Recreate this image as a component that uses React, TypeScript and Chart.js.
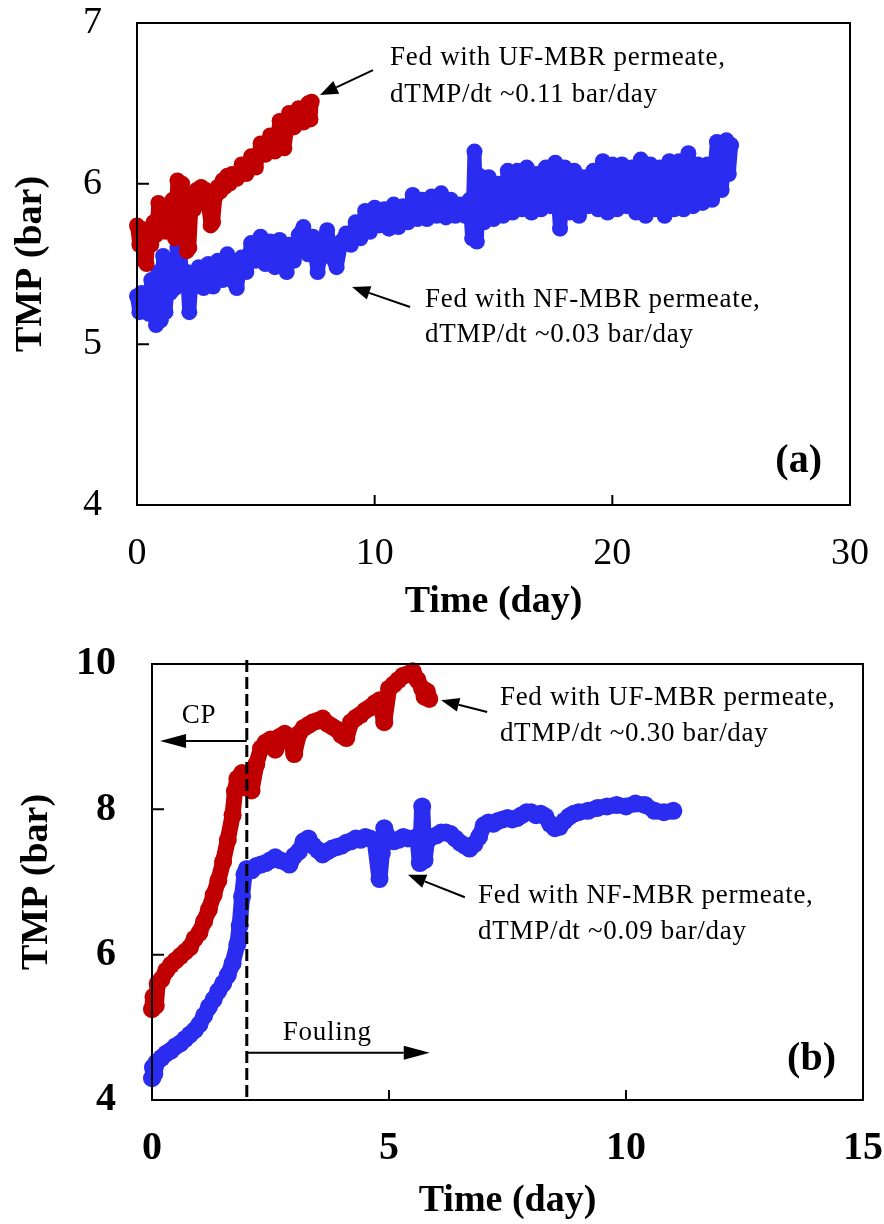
import React, { useEffect, useRef } from "react";
import { Chart, registerables } from "chart.js";
Chart.register(...registerables);

const FONT = "'Liberation Serif', 'Times New Roman', serif";
const RED = "#C00000";
const BLUE = "#2A2CF0";

// ---------- Panel (a): [day, TMP bar] ----------
const ufA: [number, number][] = [
  [0, 5.74], [0.1, 5.62], [0.2, 5.72], [0.3, 5.52], [0.4, 5.5], [0.5, 5.7], [0.6, 5.62], [0.7, 5.76],
  [0.8, 5.68], [0.9, 5.88], [1.0, 5.72], [1.1, 5.85], [1.2, 5.7], [1.3, 5.84], [1.4, 5.74], [1.5, 5.9],
  [1.6, 5.66], [1.7, 6.02], [1.8, 5.7], [1.9, 6.0], [2.0, 5.8], [2.1, 5.58], [2.2, 5.6], [2.3, 5.9],
  [2.4, 5.84], [2.5, 5.96], [2.6, 5.88], [2.7, 5.98], [2.8, 5.9], [2.9, 5.96], [3.0, 5.86], [3.1, 5.74],
  [3.2, 5.76], [3.3, 5.92], [3.4, 5.98], [3.5, 5.95], [3.6, 6.02], [3.7, 5.98], [3.8, 6.05], [3.9, 6.0],
  [4.0, 6.06], [4.2, 6.03], [4.4, 6.12], [4.6, 6.06], [4.8, 6.17], [5.0, 6.1], [5.2, 6.25], [5.4, 6.18],
  [5.6, 6.3], [5.8, 6.2], [6.0, 6.39], [6.2, 6.22], [6.4, 6.44], [6.6, 6.35], [6.8, 6.47], [7.0, 6.38],
  [7.2, 6.5], [7.3, 6.4], [7.35, 6.51],
];
const nfA: [number, number][] = [
  [0, 5.3], [0.1, 5.2], [0.2, 5.32], [0.3, 5.22], [0.4, 5.3], [0.5, 5.19], [0.6, 5.4], [0.7, 5.25],
  [0.8, 5.12], [0.9, 5.45], [1.0, 5.15], [1.1, 5.55], [1.2, 5.2], [1.3, 5.4], [1.4, 5.32], [1.5, 5.45],
  [1.6, 5.35], [1.7, 5.6], [1.8, 5.64], [1.9, 5.4], [2.0, 5.38], [2.1, 5.45], [2.2, 5.2], [2.3, 5.42],
  [2.4, 5.36], [2.6, 5.48], [2.8, 5.35], [3.0, 5.5], [3.2, 5.36], [3.4, 5.52], [3.6, 5.4], [3.8, 5.56],
  [4.0, 5.4], [4.2, 5.35], [4.4, 5.54], [4.6, 5.45], [4.8, 5.63], [5.0, 5.52], [5.2, 5.67], [5.4, 5.5],
  [5.6, 5.64], [5.8, 5.48], [6.0, 5.65], [6.2, 5.52], [6.3, 5.45], [6.4, 5.62], [6.6, 5.52], [6.8, 5.68],
  [7.0, 5.73], [7.2, 5.56], [7.4, 5.67], [7.6, 5.45], [7.8, 5.62], [8.0, 5.71], [8.2, 5.54], [8.4, 5.48],
  [8.6, 5.64], [8.8, 5.69], [9.0, 5.62], [9.2, 5.76], [9.4, 5.66], [9.6, 5.83], [9.8, 5.7], [10.0, 5.85],
  [10.2, 5.74], [10.4, 5.84], [10.6, 5.72], [10.8, 5.87], [11.0, 5.73], [11.2, 5.86], [11.4, 5.76], [11.6, 5.93],
  [11.8, 5.78], [12.0, 5.9], [12.2, 5.78], [12.4, 5.92], [12.6, 5.8], [12.8, 5.94], [13.0, 5.79], [13.2, 5.9],
  [13.4, 5.8], [13.6, 5.87], [13.8, 5.8], [14.0, 5.9], [14.1, 5.66], [14.2, 6.2], [14.3, 5.64], [14.4, 6.05],
  [14.6, 5.76], [14.8, 6.04], [15.0, 5.78], [15.2, 6.0], [15.4, 5.8], [15.6, 6.08], [15.8, 5.82], [16.0, 6.08],
  [16.2, 5.84], [16.4, 6.1], [16.6, 5.82], [16.8, 6.06], [17.0, 5.84], [17.2, 6.1], [17.4, 5.86], [17.6, 6.13],
  [17.8, 5.72], [18.0, 6.1], [18.2, 5.82], [18.4, 6.08], [18.6, 5.8], [18.8, 6.04], [19.0, 5.86], [19.2, 6.08],
  [19.4, 5.84], [19.6, 6.14], [19.8, 5.82], [20.0, 6.12], [20.2, 5.84], [20.4, 6.12], [20.6, 5.86], [20.8, 6.1],
  [21.0, 5.82], [21.2, 6.15], [21.4, 5.8], [21.6, 6.12], [21.8, 5.84], [22.0, 6.1], [22.2, 5.8], [22.4, 6.14],
  [22.6, 5.84], [22.8, 6.14], [23.0, 5.84], [23.2, 6.19], [23.4, 5.86], [23.6, 6.12], [23.8, 5.88], [24.0, 6.12],
  [24.2, 5.9], [24.4, 6.26], [24.6, 5.96], [24.8, 6.27], [24.9, 6.06], [25.0, 6.24],
];
const xTicksA = [0, 10, 20, 30];
const yTicksA = [4, 5, 6, 7];

// ---------- Panel (b): [day, TMP bar] ----------
const ufB: [number, number][] = [
  [0, 5.25], [0.03, 5.42], [0.08, 5.3], [0.12, 5.6], [0.2, 5.66], [0.3, 5.78], [0.4, 5.86], [0.5, 5.92],
  [0.6, 5.98], [0.7, 6.04], [0.8, 6.1], [0.9, 6.22], [1.0, 6.3], [1.1, 6.46], [1.2, 6.62], [1.3, 6.82],
  [1.4, 7.02], [1.5, 7.28], [1.6, 7.58], [1.7, 7.92], [1.75, 8.25], [1.8, 8.42], [1.9, 8.5], [2.0, 8.3],
  [2.1, 8.26], [2.2, 8.62], [2.3, 8.84], [2.4, 8.92], [2.5, 8.96], [2.6, 8.82], [2.7, 9.0], [2.8, 9.04],
  [2.9, 8.98], [3.0, 8.76], [3.1, 9.04], [3.2, 9.12], [3.3, 9.16], [3.4, 9.2], [3.5, 9.22], [3.6, 9.25],
  [3.7, 9.18], [3.8, 9.14], [3.9, 9.1], [4.0, 9.02], [4.1, 8.98], [4.2, 9.2], [4.3, 9.26], [4.4, 9.3],
  [4.5, 9.36], [4.6, 9.4], [4.7, 9.46], [4.8, 9.5], [4.9, 9.2], [5.0, 9.66], [5.1, 9.72], [5.2, 9.78],
  [5.3, 9.84], [5.4, 9.86], [5.5, 9.9], [5.6, 9.78], [5.7, 9.66], [5.75, 9.55], [5.8, 9.62], [5.85, 9.52],
];
const nfB: [number, number][] = [
  [0, 4.3], [0.02, 4.45], [0.05, 4.36], [0.1, 4.52], [0.2, 4.58], [0.3, 4.64], [0.4, 4.68], [0.5, 4.74],
  [0.6, 4.78], [0.7, 4.84], [0.8, 4.9], [0.9, 4.96], [1.0, 5.04], [1.1, 5.16], [1.2, 5.28], [1.3, 5.38],
  [1.4, 5.5], [1.5, 5.6], [1.6, 5.72], [1.7, 5.88], [1.8, 6.14], [1.85, 6.4], [1.9, 6.8], [1.95, 7.1],
  [2.0, 7.18], [2.1, 7.16], [2.2, 7.22], [2.3, 7.24], [2.4, 7.26], [2.5, 7.3], [2.6, 7.34], [2.7, 7.3],
  [2.8, 7.28], [2.9, 7.24], [3.0, 7.36], [3.1, 7.42], [3.2, 7.56], [3.3, 7.6], [3.4, 7.5], [3.5, 7.44],
  [3.6, 7.38], [3.7, 7.42], [3.8, 7.46], [3.9, 7.48], [4.0, 7.5], [4.1, 7.54], [4.2, 7.56], [4.3, 7.6],
  [4.4, 7.58], [4.5, 7.62], [4.6, 7.6], [4.7, 7.56], [4.8, 7.04], [4.85, 7.4], [4.9, 7.74], [5.0, 7.6],
  [5.1, 7.56], [5.2, 7.58], [5.3, 7.62], [5.4, 7.6], [5.5, 7.6], [5.6, 7.62], [5.65, 7.26], [5.7, 8.04],
  [5.75, 7.3], [5.8, 7.56], [5.9, 7.62], [6.0, 7.64], [6.1, 7.68], [6.2, 7.68], [6.3, 7.66], [6.4, 7.6],
  [6.5, 7.54], [6.6, 7.5], [6.7, 7.46], [6.8, 7.52], [6.9, 7.62], [7.0, 7.78], [7.1, 7.82], [7.2, 7.8],
  [7.3, 7.84], [7.4, 7.86], [7.5, 7.88], [7.6, 7.86], [7.7, 7.88], [7.8, 7.92], [7.9, 7.96], [8.0, 7.96],
  [8.1, 7.92], [8.2, 7.94], [8.3, 7.9], [8.4, 7.8], [8.5, 7.74], [8.6, 7.76], [8.7, 7.84], [8.8, 7.9],
  [8.9, 7.94], [9.0, 7.96], [9.2, 7.98], [9.4, 8.02], [9.6, 8.04], [9.8, 8.06], [10.0, 8.04], [10.2, 8.08],
  [10.4, 8.06], [10.6, 7.98], [10.8, 7.96], [11.0, 7.98],
];
const xTicksB = [0, 5, 10, 15];
const yTicksB = [4, 6, 8, 10];
const cpFoulingBoundary = 2;

// ---------- Annotations (data coordinates) ----------
type Txt = { x: number; y: number; text: string; bold?: boolean; size?: number; align?: CanvasTextAlign };
type Arr = { from: [number, number]; to: [number, number]; head?: number };

const textsA: Txt[] = [
  { x: 10.65, y: 6.739, text: "Fed with UF-MBR permeate," },
  { x: 10.65, y: 6.508, text: "dTMP/dt ~0.11 bar/day" },
  { x: 12.12, y: 5.232, text: "Fed with NF-MBR permeate," },
  { x: 12.12, y: 5.015, text: "dTMP/dt ~0.03 bar/day" },
  { x: 28.82, y: 4.205, text: "(a)", bold: true, size: 40, align: "right" },
];
const arrowsA: Arr[] = [
  { from: [9.93, 6.707], to: [7.7, 6.552] },
  { from: [11.49, 5.232], to: [9.05, 5.357] },
];
const textsB: Txt[] = [
  { x: 7.34, y: 9.43, text: "Fed with UF-MBR permeate," },
  { x: 7.34, y: 8.94, text: "dTMP/dt ~0.30 bar/day" },
  { x: 6.88, y: 6.71, text: "Fed with NF-MBR permeate," },
  { x: 6.88, y: 6.22, text: "dTMP/dt ~0.09 bar/day" },
  { x: 0.63, y: 9.19, text: "CP" },
  { x: 2.76, y: 4.83, text: "Fouling" },
  { x: 14.43, y: 4.41, text: "(b)", bold: true, size: 40, align: "right" },
];
const arrowsB: Arr[] = [
  { from: [7.07, 9.34], to: [6.1, 9.5] },
  { from: [6.6, 6.79], to: [5.4, 7.1] },
  { from: [2.0, 8.94], to: [0.17, 8.94], head: 26 },
  { from: [2.0, 4.65], to: [5.86, 4.65], head: 26 },
];

function drawArrow(ctx: CanvasRenderingContext2D, x1: number, y1: number, x2: number, y2: number, L: number) {
  const ang = Math.atan2(y2 - y1, x2 - x1);
  const W = 7;
  const bx = x2 - L * Math.cos(ang);
  const by = y2 - L * Math.sin(ang);
  ctx.beginPath();
  ctx.moveTo(x1, y1);
  ctx.lineTo(bx, by);
  ctx.stroke();
  ctx.beginPath();
  ctx.moveTo(x2, y2);
  ctx.lineTo(bx + W * Math.sin(ang), by - W * Math.cos(ang));
  ctx.lineTo(bx - W * Math.sin(ang), by + W * Math.cos(ang));
  ctx.closePath();
  ctx.fill();
}

function overlay(spec: {
  xMarks: number[];
  yMarks: number[];
  texts: Txt[];
  arrows: Arr[];
  dashX?: number;
}) {
  return {
    id: "overlay",
    afterDraw(chart: any) {
      const { ctx, chartArea: a, scales } = chart;
      const px = (d: number) => scales.x.getPixelForValue(d);
      const py = (v: number) => scales.y.getPixelForValue(v);
      ctx.save();
      ctx.strokeStyle = "#000";
      ctx.fillStyle = "#000";
      ctx.lineWidth = 2;
      ctx.strokeRect(a.left, a.top, a.right - a.left, a.bottom - a.top);
      ctx.beginPath();
      spec.xMarks.forEach((d) => {
        const x = px(d);
        ctx.moveTo(x, a.bottom);
        ctx.lineTo(x, a.bottom - 10);
      });
      spec.yMarks.forEach((v) => {
        const y = py(v);
        ctx.moveTo(a.left, y);
        ctx.lineTo(a.left + 12, y);
      });
      ctx.stroke();
      if (spec.dashX != null) {
        const x = px(spec.dashX);
        ctx.save();
        ctx.lineWidth = 3;
        ctx.setLineDash([12, 5]);
        ctx.beginPath();
        ctx.moveTo(x, a.top - 4);
        ctx.lineTo(x, a.bottom);
        ctx.stroke();
        ctx.restore();
      }
      ctx.lineWidth = 2;
      spec.arrows.forEach((r) => {
        drawArrow(ctx, px(r.from[0]), py(r.from[1]), px(r.to[0]), py(r.to[1]), r.head ?? 18);
      });
      ctx.textBaseline = "alphabetic";
      spec.texts.forEach((t) => {
        ctx.font = `${t.bold ? "bold " : ""}${t.size ?? 27}px ${FONT}`;
        ctx.textAlign = t.align ?? "left";
        (ctx as any).letterSpacing = t.bold ? "0px" : "0.7px";
        ctx.fillText(t.text, px(t.x), py(t.y));
      });
      ctx.restore();
    },
  };
}

function series(pts: [number, number][], color: string, r: number, w: number) {
  return {
    data: pts.map(([x, y]) => ({ x, y })),
    showLine: true,
    borderColor: color,
    backgroundColor: color,
    borderWidth: w,
    borderJoinStyle: "round" as const,
    borderCapStyle: "round" as const,
    pointRadius: r,
    pointBorderWidth: 0,
    pointHoverRadius: 0,
    clip: false as any,
    tension: 0,
  };
}

function buildConfig(p: {
  uf: [number, number][];
  nf: [number, number][];
  xTicks: number[];
  yTicks: number[];
  tickBold: boolean;
  markR: number;
  lineW: number;
  yAxisWidth: number;
  xAxisHeight: number;
  padding: { top: number; right: number };
  xTickPad: number;
  yTickPad: number;
  xTitlePad: number;
  yTitlePad: number;
  plugin: any;
}) {
  const tickFont = { family: FONT, size: p.tickBold ? 40 : 38, weight: (p.tickBold ? "bold" : "normal") as any };
  const titleFont = { family: FONT, size: 38, weight: "bold" as any };
  return {
    type: "scatter" as const,
    data: { datasets: [series(p.uf, RED, p.markR, p.lineW), series(p.nf, BLUE, p.markR, p.lineW)] },
    options: {
      animation: false as const,
      responsive: false,
      events: [] as any,
      layout: { padding: { left: 0, right: p.padding.right, top: p.padding.top, bottom: 0 } },
      plugins: { legend: { display: false }, tooltip: { enabled: false } },
      scales: {
        x: {
          type: "linear" as const,
          position: "bottom" as const,
          min: p.xTicks[0],
          max: p.xTicks[p.xTicks.length - 1],
          afterBuildTicks: (s: any) => {
            s.ticks = p.xTicks.map((v) => ({ value: v }));
          },
          afterFit: (s: any) => {
            s.height = p.xAxisHeight;
            s.paddingLeft = 0;
            s.paddingRight = 0;
          },
          grid: { display: false, drawTicks: false },
          border: { display: false },
          ticks: { font: tickFont, color: "#000", padding: p.xTickPad, maxRotation: 0, autoSkip: false },
          title: { display: true, text: "Time (day)", font: titleFont, color: "#000", padding: { top: 0, bottom: p.xTitlePad } },
        },
        y: {
          type: "linear" as const,
          min: p.yTicks[0],
          max: p.yTicks[p.yTicks.length - 1],
          afterBuildTicks: (s: any) => {
            s.ticks = p.yTicks.map((v) => ({ value: v }));
          },
          afterFit: (s: any) => {
            s.width = p.yAxisWidth;
            s.paddingTop = 0;
            s.paddingBottom = 0;
          },
          grid: { display: false, drawTicks: false },
          border: { display: false },
          ticks: { font: tickFont, color: "#000", padding: p.yTickPad, autoSkip: false },
          title: { display: true, text: "TMP (bar)", font: titleFont, color: "#000", padding: { top: p.yTitlePad, bottom: 0 } },
        },
      },
    },
    plugins: [p.plugin],
  };
}

function ChartCanvas({ width, height, make }: { width: number; height: number; make: () => any }) {
  const ref = useRef<HTMLCanvasElement>(null);
  useEffect(() => {
    const chart = new Chart(ref.current as HTMLCanvasElement, make());
    return () => chart.destroy();
  }, []);
  return <canvas ref={ref} width={width} height={height} style={{ display: "block", width, height }} />;
}

export default function App() {
  return (
    <div style={{ position: "absolute", left: 0, top: 0, width: 884, height: 1224, background: "#fff" }}>
      <ChartCanvas
        width={884}
        height={630}
        make={() =>
          buildConfig({
            uf: ufA,
            nf: nfA,
            xTicks: xTicksA,
            yTicks: yTicksA,
            tickBold: false,
            markR: 8,
            lineW: 14,
            yAxisWidth: 137,
            xAxisHeight: 125,
            padding: { top: 23, right: 34 },
            xTickPad: 26,
            yTickPad: 35,
            xTitlePad: 5,
            yTitlePad: 8,
            plugin: overlay({ xMarks: [10, 20], yMarks: [5, 6], texts: textsA, arrows: arrowsA }),
          })
        }
      />
      <ChartCanvas
        width={884}
        height={594}
        make={() =>
          buildConfig({
            uf: ufB,
            nf: nfB,
            xTicks: xTicksB,
            yTicks: yTicksB,
            tickBold: true,
            markR: 9,
            lineW: 16,
            yAxisWidth: 152,
            xAxisHeight: 124,
            padding: { top: 34, right: 21 },
            xTickPad: 25,
            yTickPad: 36,
            xTitlePad: 0,
            yTitlePad: 14,
            plugin: overlay({
              xMarks: [5, 10],
              yMarks: [6, 8],
              texts: textsB,
              arrows: arrowsB,
              dashX: cpFoulingBoundary,
            }),
          })
        }
      />
    </div>
  );
}
